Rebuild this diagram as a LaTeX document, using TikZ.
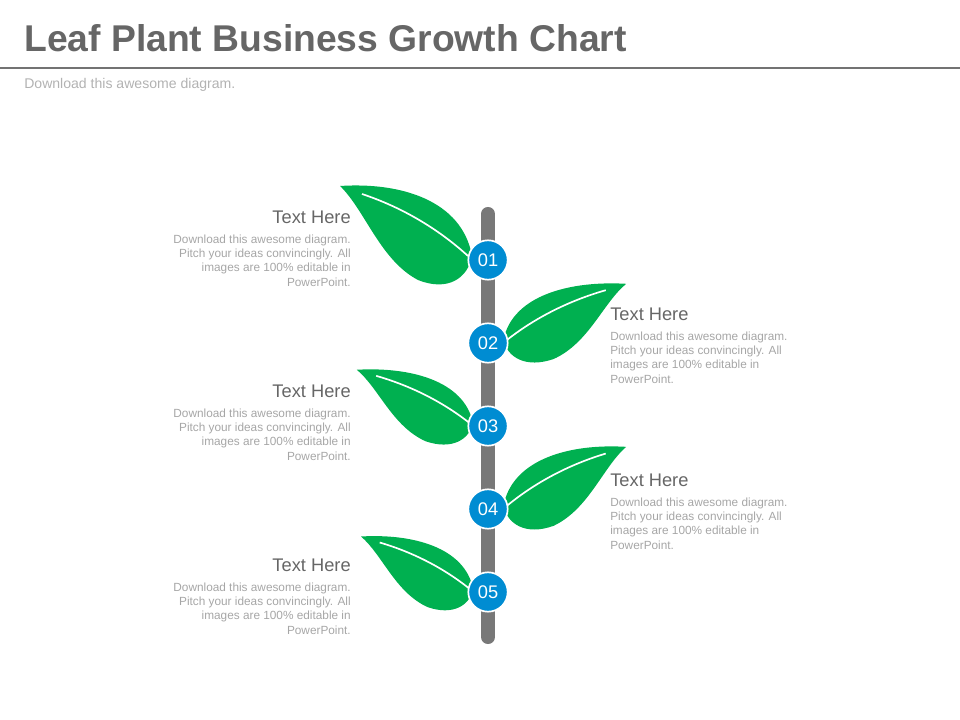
\documentclass[tikz,border=0pt]{standalone}
\usepackage{fontspec}
\setmainfont{Liberation Sans}
\usetikzlibrary{positioning}
\definecolor{leafgreen}{RGB}{0,176,80}
\definecolor{stepblue}{RGB}{0,140,210}
\definecolor{stemgray}{RGB}{120,120,120}
\newcommand{\leafat}[4]{% x, y, xscale, yscale
  \begin{scope}[shift={(#1,#2)},xscale=#3,yscale=#4]
    \fill[leafgreen] (-8,-4) .. controls (-18,-60) and (-80,-78) .. (-140,-74)
      .. controls (-115,-50) and (-100,0) .. (-62,20)
      .. controls (-32,32) and (-12,18) .. (-8,-4);
    \draw[white,line width=1.2pt] (-118,-66) .. controls (-70,-50) and (-35,-25) .. (-12,-4);
  \end{scope}}
\begin{document}
\begin{tikzpicture}[x=0.025cm,y=-0.025cm,
  title/.style={anchor=base west,inner sep=0,font=\fontsize{26.5}{29}\selectfont\bfseries,text=black!60},
  numbox/.style={circle,fill=stepblue,draw=white,line width=1.2pt,minimum size=28pt,inner sep=0,
    text=white,font=\fontsize{13}{14}\selectfont},
  head/.style={inner sep=0,font=\fontsize{13}{15}\selectfont,text=black!60},
  body/.style={inner sep=0,font=\fontsize{8.4}{10}\selectfont,text=black!35}]
\useasboundingbox (0,0) rectangle (960,720);
\node[title] (title) at (24,52) {Leaf Plant Business Growth Chart};
\draw[black!55,line width=2pt] (0,68) -- (960,68);
\node[anchor=base west,inner sep=0,font=\fontsize{10}{12}\selectfont,text=black!30] (sub) at (24,89) {Download this awesome diagram.};
% stem
\draw[stemgray,line width=10pt,line cap=round] (488,214) -- (488,637);
% leaves
\leafat{480}{260}{1}{1}
\leafat{496}{343}{-0.93}{0.8}
\leafat{480}{426}{0.88}{0.76}
\leafat{496}{509}{-0.93}{0.84}
\leafat{480}{592}{0.85}{0.75}
% steps
\foreach \n/\y in {1/260,2/343,3/426,4/509,5/592}
  \node[numbox] (n\n) at (488,\y) {0\n};
% left texts
\foreach \n/\y in {1/218,3/392,5/566}{
  \node[head,anchor=base east] (h\n) at (351,\y+6) {Text Here};
  \node[body,anchor=north east,align=right] (b\n) at (351,\y+17)
    {Download this awesome diagram.\\Pitch your ideas convincingly. All\\images are 100\% editable in\\PowerPoint.};
}
% right texts
\foreach \n/\y in {2/315,4/481}{
  \node[head,anchor=base west] (h\n) at (610,\y+6) {Text Here};
  \node[body,anchor=north west,align=left] (b\n) at (610,\y+17)
    {Download this awesome diagram.\\Pitch your ideas convincingly. All\\images are 100\% editable in\\PowerPoint.};
}
\end{tikzpicture}
\end{document}
